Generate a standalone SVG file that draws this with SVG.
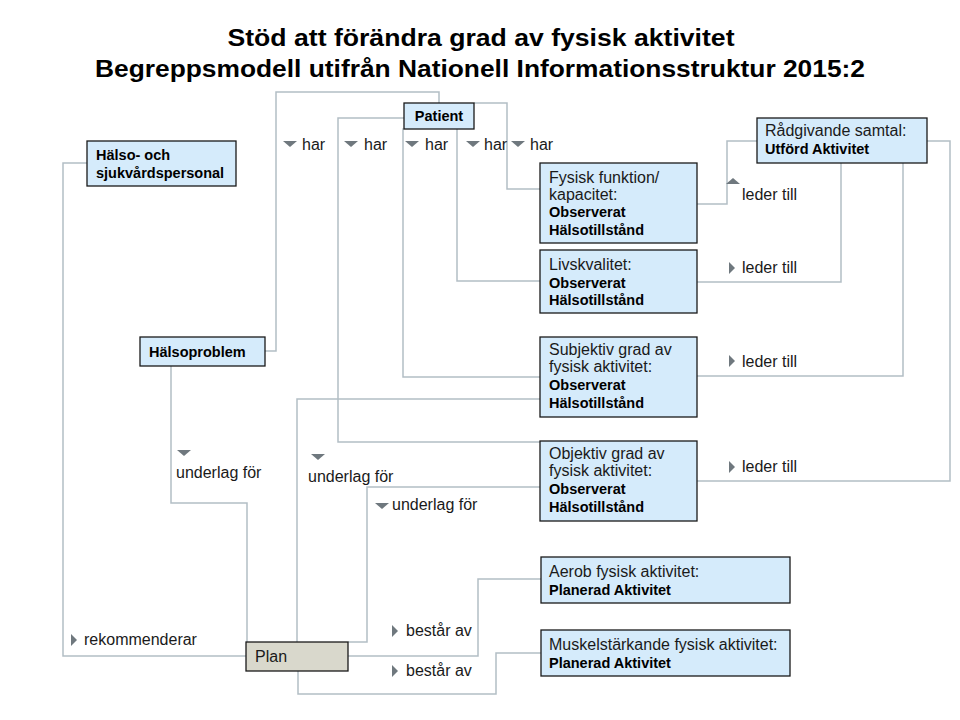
<svg xmlns="http://www.w3.org/2000/svg" width="960" height="720" viewBox="0 0 960 720">
<style>
.title{font-family:"Liberation Sans",Arial,sans-serif;font-weight:bold;font-size:23px;fill:#000}
.box{fill:#d5ebfb;stroke:#1a1a1a;stroke-width:1.3}
.plan{fill:#d9d8cc;stroke:#1a1a1a;stroke-width:1.3}
.t{font-family:"Liberation Sans",Arial,sans-serif;font-size:16px;fill:#1a1a1a}
.b{font-family:"Liberation Sans",Arial,sans-serif;font-size:14.5px;font-weight:bold;fill:#000}
.lbl{font-family:"Liberation Sans",Arial,sans-serif;font-size:16px;fill:#1a1a1a}
.c{fill:none;stroke:#b3bec5;stroke-width:1.5}
.tri{fill:#6f787e}
</style>
<defs>
<path id="td" d="M0,0 L14,0 L7,6 Z"/>
<path id="tu" d="M0,6 L7,0 L14,6 Z"/>
<path id="tr" d="M0,0 L6,6 L0,12 Z"/>
</defs>
<rect width="960" height="720" fill="#fff"/>
<text class="title" x="481" y="46" text-anchor="middle" textLength="507" lengthAdjust="spacingAndGlyphs">Stöd att förändra grad av fysisk aktivitet</text>
<text class="title" x="480" y="77" text-anchor="middle" textLength="770" lengthAdjust="spacingAndGlyphs">Begreppsmodell utifrån Nationell Informationsstruktur 2015:2</text>

<g id="connectors">
<path class="c" d="M265,351 H276 V92 H439 V103"/>
<path class="c" d="M404,118 H338 V442 H540"/>
<path class="c" d="M404,129 H403 V377 H540"/>
<path class="c" d="M457,129 V281 H540"/>
<path class="c" d="M474,103 H507 V189 H540"/>
<path class="c" d="M697,204 H727 V141 H757"/>
<path class="c" d="M697,282 H841 V163"/>
<path class="c" d="M697,376 H903 V163"/>
<path class="c" d="M927,141 H950 V481 H697"/>
<path class="c" d="M87,163 H63 V656 H246"/>
<path class="c" d="M171,366 V503 H247 V642"/>
<path class="c" d="M540,399 H297 V642"/>
<path class="c" d="M540,487 H367 V642 H348"/>
<path class="c" d="M348,656 H478 V579 H541"/>
<path class="c" d="M298,671 V694 H496 V653 H541"/>
</g>

<g id="labels">
<use href="#td" class="tri" x="283" y="141"/><text class="lbl" x="302" y="150">har</text>
<use href="#td" class="tri" x="344" y="141"/><text class="lbl" x="364" y="150">har</text>
<use href="#td" class="tri" x="405" y="141"/><text class="lbl" x="425" y="150">har</text>
<use href="#td" class="tri" x="466" y="141"/><text class="lbl" x="484" y="150">har</text>
<use href="#td" class="tri" x="511" y="141"/><text class="lbl" x="530" y="150">har</text>
<use href="#tu" class="tri" x="726" y="178"/><text class="lbl" x="742" y="200">leder till</text>
<use href="#tr" class="tri" x="729" y="262"/><text class="lbl" x="742" y="273">leder till</text>
<use href="#tr" class="tri" x="729" y="355"/><text class="lbl" x="742" y="367">leder till</text>
<use href="#tr" class="tri" x="729" y="461"/><text class="lbl" x="742" y="472">leder till</text>
<use href="#td" class="tri" x="177" y="450"/><text class="lbl" x="176" y="478">underlag för</text>
<use href="#td" class="tri" x="311" y="454"/><text class="lbl" x="308" y="482">underlag för</text>
<use href="#td" class="tri" x="375" y="503"/><text class="lbl" x="392" y="510">underlag för</text>
<use href="#tr" class="tri" x="71" y="634"/><text class="lbl" x="84" y="645">rekommenderar</text>
<use href="#tr" class="tri" x="392" y="625"/><text class="lbl" x="406" y="636">består av</text>
<use href="#tr" class="tri" x="392" y="665"/><text class="lbl" x="406" y="676">består av</text>
</g>

<g id="patient"><rect class="box" x="404" y="103" width="70" height="26"/><text class="b" x="439" y="121" text-anchor="middle">Patient</text></g>
<g id="halso"><rect class="box" x="87" y="141" width="149" height="45"/><text class="b" x="96" y="160">Hälso- och</text><text class="b" x="96" y="178">sjukvårdspersonal</text></g>
<g id="fysisk"><rect class="box" x="540" y="163" width="157" height="80"/><text class="t" x="549" y="183">Fysisk funktion/</text><text class="t" x="549" y="200">kapacitet:</text><text class="b" x="549" y="217">Observerat</text><text class="b" x="549" y="235">Hälsotillstånd</text></g>
<g id="radgivande"><rect class="box" x="757" y="118" width="170" height="45"/><text class="t" x="765" y="136">Rådgivande samtal:</text><text class="b" x="765" y="154">Utförd Aktivitet</text></g>
<g id="livskvalitet"><rect class="box" x="540" y="250" width="157" height="63"/><text class="t" x="549" y="270">Livskvalitet:</text><text class="b" x="549" y="288">Observerat</text><text class="b" x="549" y="305">Hälsotillstånd</text></g>
<g id="subjektiv"><rect class="box" x="540" y="337" width="157" height="80"/><text class="t" x="549" y="355">Subjektiv grad av</text><text class="t" x="549" y="372">fysisk aktivitet:</text><text class="b" x="549" y="390">Observerat</text><text class="b" x="549" y="408">Hälsotillstånd</text></g>
<g id="objektiv"><rect class="box" x="540" y="441" width="157" height="80"/><text class="t" x="549" y="459">Objektiv grad av</text><text class="t" x="549" y="476">fysisk aktivitet:</text><text class="b" x="549" y="494">Observerat</text><text class="b" x="549" y="512">Hälsotillstånd</text></g>
<g id="halsoproblem"><rect class="box" x="140" y="337" width="125" height="29"/><text class="b" x="149" y="357">Hälsoproblem</text></g>
<g id="plan"><rect class="plan" x="246" y="642" width="102" height="29"/><text class="t" x="255" y="662">Plan</text></g>
<g id="aerob"><rect class="box" x="541" y="557" width="249" height="46"/><text class="t" x="549" y="577">Aerob fysisk aktivitet:</text><text class="b" x="549" y="595">Planerad Aktivitet</text></g>
<g id="muskel"><rect class="box" x="541" y="630" width="249" height="46"/><text class="t" x="549" y="650">Muskelstärkande fysisk aktivitet:</text><text class="b" x="549" y="668">Planerad Aktivitet</text></g>
</svg>
